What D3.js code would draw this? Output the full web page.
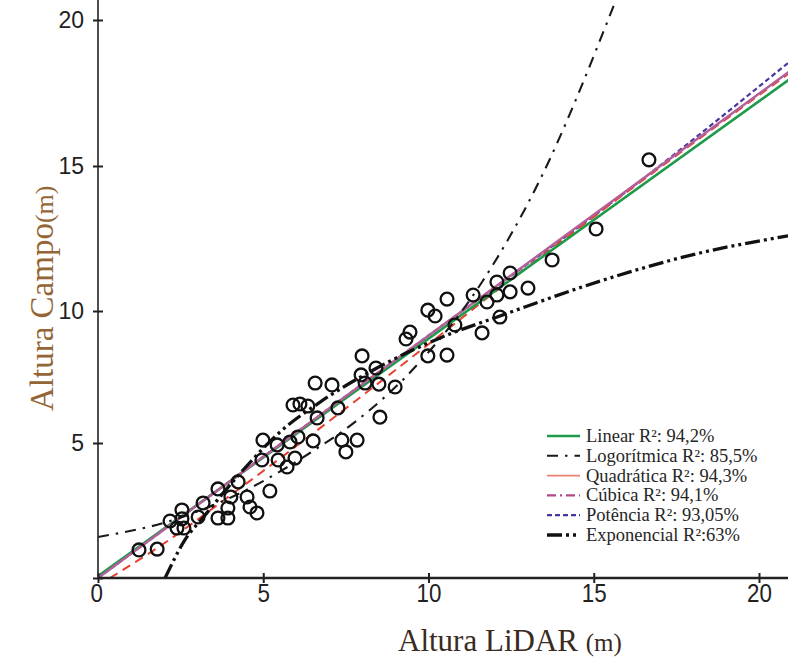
<!DOCTYPE html>
<html>
<head>
<meta charset="utf-8">
<script src="https://cdn.jsdelivr.net/npm/d3@7"></script>
<style>
  body { margin: 0; background: #fff; }
  svg { display: block; }
</style>
</head>
<body>
<svg id="chart" width="788" height="661"></svg>
<script>
// Field-measured height against LiDAR-derived height (metres)
const lidarHeight = [1.24, 1.79, 2.18, 2.54, 2.54, 2.39, 2.60, 3.03, 3.18, 3.63, 3.93, 3.93, 4.02, 3.63, 4.24, 4.51, 4.60, 4.81, 5.20, 4.96, 5.45, 5.96, 5.72, 4.99, 6.05, 5.42, 5.81, 5.90, 6.11, 6.35, 6.57, 7.08, 6.63, 7.26, 6.51, 7.38, 7.84, 7.50, 7.99, 8.41, 7.96, 8.08, 8.50, 8.99, 8.53, 9.98, 10.20, 10.56, 11.35, 9.44, 9.32, 10.80, 9.98, 10.56, 11.62, 12.16, 11.77, 12.07, 12.07, 12.47, 12.47, 13.01, 13.74, 15.07, 16.67];
const fieldHeight = [1.04, 1.07, 2.11, 2.52, 2.19, 1.85, 1.85, 2.26, 2.78, 2.22, 2.22, 2.59, 3.00, 3.30, 3.56, 3.00, 2.63, 2.41, 3.22, 4.37, 4.37, 4.44, 4.11, 5.11, 5.23, 4.93, 5.04, 6.44, 6.48, 6.40, 7.27, 7.20, 5.95, 6.33, 5.08, 5.11, 5.11, 4.67, 8.30, 7.84, 7.58, 7.27, 7.23, 7.12, 5.98, 10.03, 9.81, 10.41, 10.55, 9.20, 8.94, 9.47, 8.30, 8.33, 9.17, 9.77, 10.31, 10.55, 11.00, 11.31, 10.66, 10.79, 11.76, 12.83, 15.21];

const xTickValues = [0, 5, 10, 15, 20];
const yTickValues = [0, 5, 10, 15, 20];
const yTickLabels = ["", "5", "10", "15", "20"];

// Trend curves as [LiDAR, field] vertices
const fitLinear = [[0, 0.07], [20.9, 17.95]];
const fitLogaritmica = [[0, 1.52], [2.18, 2.11], [4.60, 3.33], [6.41, 4.63], [7.78, 5.80], [9.65, 7.95], [11.62, 11.0], [13.37, 14.52], [15.67, 20.68]];
const fitQuadratica = [[0.36, 0], [1.79, 1.11], [4.39, 3.41], [8.14, 6.93], [10.05, 8.79], [12.16, 10.79], [15.19, 13.41], [20.88, 18.15]];
const fitCubica = [[0, 0], [10.44, 9.47], [20.9, 18.22]];
const fitPotencia = [[0, 0], [10.44, 9.47], [16.4, 14.48], [20.88, 18.53]];
const fitExponencial = [[2.03, 0], [2.63, 1.41], [3.24, 2.33], [4.39, 4.0], [5.51, 5.42], [6.72, 6.55], [8.44, 7.84], [10.35, 8.98], [12.16, 9.81], [15.19, 11.03], [18.21, 12.0], [20.88, 12.59]];

const legendLabels = ["Linear R²: 94,2%", "Logorítmica R²: 85,5%", "Quadrática R²: 94,3%", "Cúbica R²: 94,1%", "Potência R²: 93,05%", "Exponencial R²:63%"];

const svg = d3.select("#chart");
const W = 788, H = 661;
const left = 98, bottom = 578;

const x = d3.scaleLinear().domain([0, 20]).range([left, 759]);
// vertical axis is drawn with slightly unequal spacing between its ticks
const y = d3.scaleLinear().domain(yTickValues).range([bottom, 443, 311, 166, 20]);

const points = lidarHeight.map((v, i) => [v, fieldHeight[i]]);

// clip for the plotting region
svg.append("defs").append("clipPath").attr("id", "plotClip")
  .append("rect").attr("x", left).attr("y", 0).attr("width", W - left).attr("height", bottom - 0);

const plot = svg.append("g").attr("clip-path", "url(#plotClip)");
const line = d3.line().x(d => x(d[0])).y(d => y(d[1])).curve(d3.curveMonotoneX);

const styles = {
  linear: { stroke: "#1e9a4a", width: 2.6, dash: null },
  log: { stroke: "#1a1a1a", width: 2.1, dash: "11,7,2.5,7" },
  quadLine: { stroke: "#e8402f", width: 2, dash: "9,6" },
  quadLegend: { stroke: "#f08070", width: 1.6, dash: null },
  cubic: { stroke: "#b45f98", width: 2.4, dash: null },
  cubicLegend: { stroke: "#b4478a", width: 2.2, dash: "9,4,2,4" },
  power: { stroke: "#4638a0", width: 2.2, dash: "5,3" },
  exp: { stroke: "#111", width: 3.3, dash: "15,4,3,4,3,4" }
};

function drawFit(data, st) {
  plot.append("path").datum(data)
    .attr("d", line)
    .attr("fill", "none")
    .attr("stroke", st.stroke)
    .attr("stroke-width", st.width)
    .attr("stroke-dasharray", st.dash);
}

drawFit(fitPotencia, styles.power);
drawFit(fitQuadratica, styles.quadLine);
drawFit(fitLinear, styles.linear);
drawFit(fitCubica, styles.cubic);
drawFit(fitLogaritmica, styles.log);
drawFit(fitExponencial, styles.exp);

// observations
plot.append("g").selectAll("circle").data(points).join("circle")
  .attr("cx", d => x(d[0]))
  .attr("cy", d => y(d[1]))
  .attr("r", 6.4)
  .attr("fill", "none")
  .attr("stroke", "#111")
  .attr("stroke-width", 2.3);

// axes
const axisColor = "#222";
const yAxis = svg.append("g").attr("transform", `translate(${left},0)`)
  .call(d3.axisLeft(y).tickValues(yTickValues).tickFormat((d, i) => yTickLabels[i]).tickSizeInner(5).tickSizeOuter(0).tickPadding(9));
yAxis.select(".domain").remove();
yAxis.selectAll(".tick line").attr("x1", 5).attr("stroke", axisColor).attr("stroke-width", 2);
yAxis.selectAll(".tick text").attr("font-family", "'Liberation Sans', Arial, sans-serif").attr("font-size", 23).attr("fill", axisColor);
svg.append("line").attr("x1", left).attr("x2", left).attr("y1", 0).attr("y2", bottom)
  .attr("stroke", axisColor).attr("stroke-width", 1.6);

const xAxis = svg.append("g").attr("transform", `translate(0,${bottom})`)
  .call(d3.axisBottom(x).tickValues(xTickValues).tickFormat(d3.format("d")).tickSizeInner(5).tickSizeOuter(0).tickPadding(1));
xAxis.select(".domain").remove();
xAxis.selectAll(".tick line").attr("y1", -5).attr("stroke", axisColor).attr("stroke-width", 2);
xAxis.selectAll(".tick text")
  .attr("font-family", "'Liberation Sans Narrow', 'Liberation Sans', Arial, sans-serif")
  .attr("font-size", 26).attr("fill", axisColor)
  .attr("transform", "scale(0.86,1)");
xAxis.selectAll(".tick").filter(d => d === 0).select("text").attr("x", -2);
svg.append("line").attr("x1", left).attr("x2", W).attr("y1", bottom).attr("y2", bottom)
  .attr("stroke", axisColor).attr("stroke-width", 2.4);

// axis titles
const xt = svg.append("text").attr("x", 398).attr("y", 651)
  .attr("font-family", "'Liberation Serif', 'Times New Roman', serif").attr("fill", "#3b2a1e");
xt.append("tspan").attr("font-size", 31).text("Altura LiDAR ");
xt.append("tspan").attr("font-size", 25).text("(m)");

const yt = svg.append("text").attr("transform", "translate(53,411) rotate(-90)")
  .attr("font-family", "'Liberation Serif', 'Times New Roman', serif").attr("fill", "#946536");
yt.append("tspan").attr("font-size", 33).text("Altura Campo");
yt.append("tspan").attr("font-size", 26).text("(m)");

// legend
const legendStyles = [styles.linear, styles.log, styles.quadLegend, styles.cubicLegend, styles.power, styles.exp];
const legend = svg.append("g").attr("transform", "translate(547,436)");
legendLabels.forEach((label, i) => {
  const row = legend.append("g").attr("transform", `translate(0,${i * 19.8})`);
  const st = legendStyles[i];
  row.append("line").attr("x1", 0).attr("x2", 33).attr("y1", 0).attr("y2", 0)
    .attr("stroke", st.stroke).attr("stroke-width", st.width).attr("stroke-dasharray", st.dash);
  row.append("text").attr("x", 39).attr("y", 6)
    .attr("font-family", "'Liberation Serif', 'Times New Roman', serif")
    .attr("font-size", 18.5).attr("fill", "#262626").text(label);
});
</script>
</body>
</html>
